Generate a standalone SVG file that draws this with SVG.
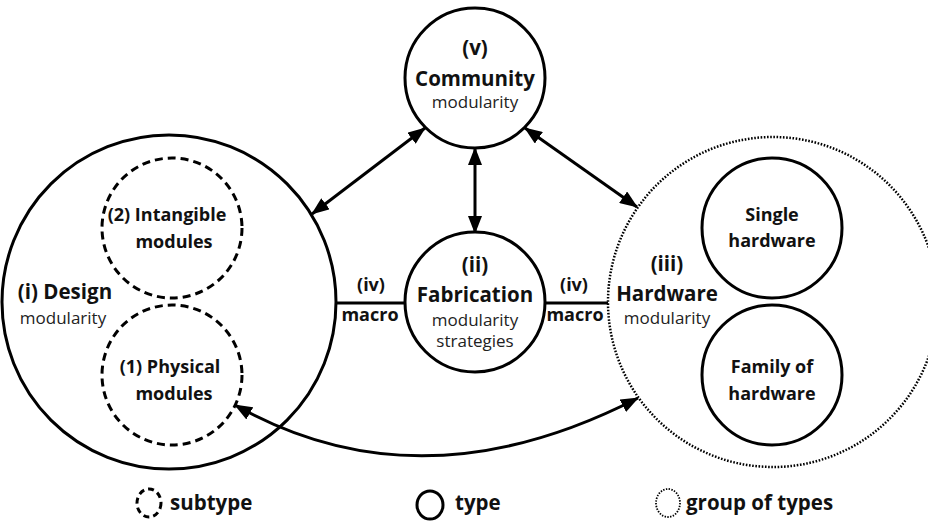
<svg xmlns="http://www.w3.org/2000/svg" width="928" height="522" viewBox="0 0 928 522">
  <style>
    text { font-family: "Open Sans", "Noto Sans", "Liberation Sans", sans-serif; fill: #111; text-anchor: middle; }
    .b { font-weight: 700; font-size: 20.5px; }
    .bs { font-weight: 700; font-size: 18px; }
    .r { font-weight: 400; font-size: 17px; fill: #222; }
    .lg { font-weight: 700; font-size: 20.5px; text-anchor: start; }
    .type { fill: #fff; stroke: #000; stroke-width: 3; }
    .sub { fill: none; stroke: #000; stroke-width: 3; stroke-dasharray: 8 5; }
    .grp { fill: none; stroke: #000; stroke-width: 2.5; stroke-dasharray: 1.6 1.6; }
    .link { fill: none; stroke: #000; stroke-width: 3; }
    .arrow { fill: none; stroke: #000; stroke-width: 3; marker-start: url(#head); marker-end: url(#head); }
  </style>
  <defs>
    <marker id="head" markerUnits="userSpaceOnUse" markerWidth="18" markerHeight="14" refX="17" refY="7" orient="auto-start-reverse">
      <path d="M0,0 L18,7 L0,14 Z" fill="#000"/>
    </marker>
  </defs>
  <rect width="928" height="522" fill="#fff"/>

  <!-- (iii) Hardware modularity: group of types -->
  <g id="hardware">
    <circle class="grp" cx="773" cy="302" r="165"/>
    <text class="b" x="667" y="271">(iii)</text>
    <text class="b" x="667" y="301">Hardware</text>
    <text class="r" x="667" y="324">modularity</text>
  </g>
  <g id="single-hardware">
    <circle class="type" cx="772" cy="228" r="70"/>
    <text class="bs" x="772" y="221">Single</text>
    <text class="bs" x="772" y="247">hardware</text>
  </g>
  <g id="family-hardware">
    <circle class="type" cx="772" cy="375" r="70"/>
    <text class="bs" x="772" y="373">Family of</text>
    <text class="bs" x="772" y="400">hardware</text>
  </g>

  <!-- (i) Design modularity with its two subtypes -->
  <g id="design">
    <circle class="type" cx="169" cy="302" r="167" stroke-width="2.6"/>
    <text class="b" x="65" y="299">(i) Design</text>
    <text class="r" x="63" y="324">modularity</text>
  </g>
  <g id="intangible">
    <circle class="sub" cx="172" cy="228" r="70"/>
    <text class="bs" x="167" y="221">(2) Intangible</text>
    <text class="bs" x="174" y="248">modules</text>
  </g>
  <g id="physical">
    <circle class="sub" cx="172" cy="375" r="70"/>
    <text class="bs" x="170" y="373">(1) Physical</text>
    <text class="bs" x="174" y="400">modules</text>
  </g>

  <!-- connectors -->
  <g id="connectors">
    <line class="link" x1="336" y1="303" x2="406" y2="303"/>
    <line class="link" x1="545" y1="303" x2="608" y2="303"/>
    <line class="arrow" x1="425" y1="128" x2="312" y2="214"/>
    <line class="arrow" x1="525" y1="128" x2="637" y2="207"/>
    <line class="arrow" x1="475" y1="148" x2="475" y2="233"/>
    <path class="arrow" d="M235,405 Q420,510 638,398"/>
    <text class="bs" x="371" y="291">(iv)</text>
    <text class="bs" x="370" y="321">macro</text>
    <text class="bs" x="574" y="291">(iv)</text>
    <text class="bs" x="575" y="321">macro</text>
  </g>

  <!-- (v) Community modularity -->
  <g id="community">
    <circle class="type" cx="475" cy="78" r="70"/>
    <text class="b" x="475" y="55">(v)</text>
    <text class="b" x="475" y="86">Community</text>
    <text class="r" x="475" y="108">modularity</text>
  </g>

  <!-- (ii) Fabrication modularity strategies -->
  <g id="fabrication">
    <circle class="type" cx="475" cy="302" r="70"/>
    <text class="b" x="475" y="272">(ii)</text>
    <text class="b" x="475" y="302">Fabrication</text>
    <text class="r" x="475" y="326">modularity</text>
    <text class="r" x="475" y="347">strategies</text>
  </g>

  <!-- legend -->
  <g id="legend">
    <ellipse cx="149" cy="503" rx="12" ry="14" fill="none" stroke="#000" stroke-width="3" stroke-dasharray="6 4"/>
    <text class="lg" x="170" y="510">subtype</text>
    <ellipse cx="430" cy="505" rx="13" ry="14" fill="none" stroke="#000" stroke-width="3"/>
    <text class="lg" x="455" y="510">type</text>
    <ellipse cx="668" cy="503" rx="12" ry="14" fill="none" stroke="#000" stroke-width="1.8" stroke-dasharray="1.4 1.4"/>
    <text class="lg" x="686" y="510">group of types</text>
  </g>
</svg>
